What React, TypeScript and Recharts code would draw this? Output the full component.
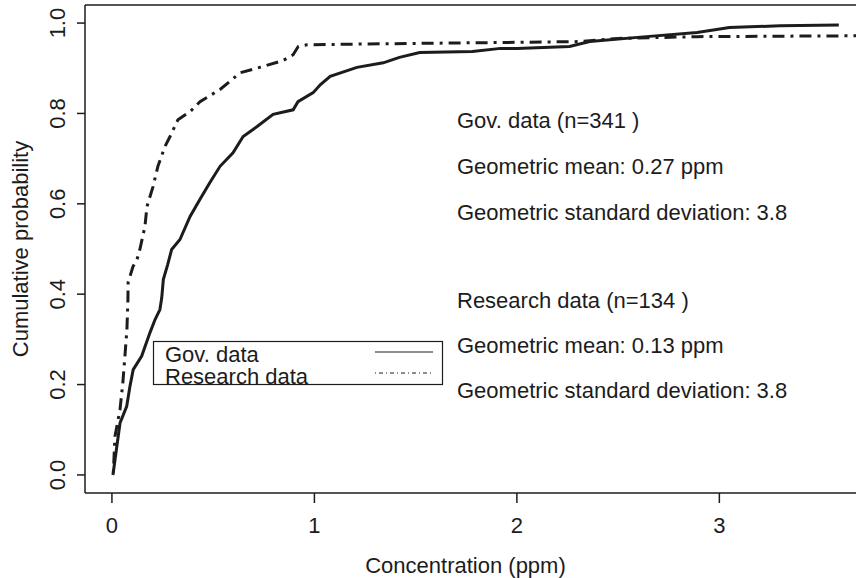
import { LineChart, Line, XAxis, YAxis, ReferenceLine, Label, Legend } from 'recharts';

// Empirical CDFs of measured concentration (ppm)
const govConc = [
  0.005, 0.04, 0.073, 0.089, 0.105, 0.147, 0.188, 0.213, 0.237, 0.246, 0.254, 0.275,
  0.295, 0.336, 0.386, 0.435, 0.484, 0.534, 0.598, 0.648, 0.717, 0.796, 0.895, 0.919,
  0.994, 1.03, 1.078, 1.21, 1.34, 1.42, 1.52, 1.78, 1.92, 2.0, 2.26, 2.36, 2.64, 2.89,
  3.05, 3.3, 3.59,
];
const govProb = [
  0.0, 0.115, 0.152, 0.196, 0.233, 0.263, 0.315, 0.344, 0.366, 0.392, 0.433, 0.465,
  0.499, 0.521, 0.572, 0.61, 0.647, 0.683, 0.713, 0.749, 0.771, 0.798, 0.808, 0.826,
  0.846, 0.864, 0.882, 0.902, 0.912, 0.924, 0.935, 0.937, 0.944, 0.944, 0.948, 0.959,
  0.97, 0.979, 0.99, 0.994, 0.996,
];

const resConc = [
  0.007, 0.015, 0.04, 0.054, 0.064, 0.074, 0.079, 0.08, 0.104, 0.124, 0.138, 0.163,
  0.173, 0.203, 0.227, 0.262, 0.287, 0.326, 0.386, 0.435, 0.534, 0.633, 0.73, 0.845,
  0.895, 0.92, 0.964, 1.5, 1.92, 2.31, 2.5, 2.89, 3.74,
];
const resProb = [
  0.005, 0.085, 0.145, 0.205, 0.262, 0.322, 0.388, 0.426, 0.461, 0.477, 0.499, 0.55,
  0.594, 0.638, 0.683, 0.727, 0.749, 0.786, 0.804, 0.826, 0.853, 0.89, 0.902, 0.917,
  0.93, 0.948, 0.952, 0.955, 0.957, 0.959, 0.966, 0.97, 0.972,
];

const xTicks = [0, 1, 2, 3];
const yTicks = [0, 0.2, 0.4, 0.6, 0.8, 1.0];

const govNotes = ['Gov. data (n=341 )', 'Geometric mean: 0.27 ppm', 'Geometric standard deviation: 3.8'];
const resNotes = ['Research data (n=134 )', 'Geometric mean: 0.13 ppm', 'Geometric standard deviation: 3.8'];

const govData = govConc.map((x, i) => ({ x, y: govProb[i] }));
const resData = resConc.map((x, i) => ({ x, y: resProb[i] }));

const INK = '#1c1c1c';
const FONT = '"Liberation Sans", Arial, Helvetica, sans-serif';
const FS = 22;
const DOTDASH = '3 6 12 6';

const YTick = ({ x, y, payload }: any) => (
  <text
    transform={`translate(${x - 18},${y}) rotate(-90)`}
    textAnchor="middle"
    dominantBaseline="central"
    fontSize={FS}
    fontFamily={FONT}
    fill={INK}
  >
    {payload.value.toFixed(1)}
  </text>
);

const XTick = ({ x, y, payload }: any) => (
  <text x={x} y={y + 20} textAnchor="middle" dominantBaseline="central" fontSize={FS} fontFamily={FONT} fill={INK}>
    {payload.value}
  </text>
);

const LegendBox = () => (
  <svg width={300} height={50} style={{ overflow: 'visible', display: 'block' }}>
    <rect x={0.5} y={0.5} width={289} height={43} fill="#fff" stroke={INK} strokeWidth={1.2} />
    <text x={12} y={21} fontSize={FS} fontFamily={FONT} fill={INK}>Gov. data</text>
    <text x={12} y={43} fontSize={FS} fontFamily={FONT} fill={INK}>Research data</text>
    <line x1={222} x2={280} y1={11} y2={11} stroke={INK} strokeWidth={1.2} />
    <line x1={222} x2={280} y1={32} y2={32} stroke={INK} strokeWidth={1.2} strokeDasharray="1 3 4 3" />
  </svg>
);

export default function App() {
  return (
    <div style={{ position: 'fixed', left: 0, top: 0, width: 856, height: 578, overflow: 'hidden', background: '#fff' }}>
      <LineChart width={880} height={578} margin={{ top: 5, right: 10, bottom: 0, left: 0 }}>
        <XAxis
          dataKey="x"
          type="number"
          domain={[-0.133, 3.744]}
          ticks={xTicks}
          tick={<XTick />}
          tickSize={10}
          height={85}
          stroke={INK}
          strokeWidth={1.5}
          allowDataOverflow
        >
          <Label
            value="Concentration (ppm)"
            position="insideBottom"
            offset={5}
            dx={-12}
            style={{ fontSize: FS, fontFamily: FONT, fill: INK }}
          />
        </XAxis>
        <YAxis
          dataKey="y"
          type="number"
          domain={[-0.04, 1.04]}
          ticks={yTicks}
          tick={<YTick />}
          tickSize={8}
          width={85}
          stroke={INK}
          strokeWidth={1.5}
          allowDataOverflow
        >
          <Label
            value="Cumulative probability"
            angle={-90}
            position="insideLeft"
            offset={20}
            style={{ fontSize: FS, fontFamily: FONT, fill: INK, textAnchor: 'middle' }}
          />
        </YAxis>
        <ReferenceLine y={1.04} stroke={INK} strokeWidth={1.5} />
        <Legend
          layout="horizontal"
          verticalAlign="middle"
          align="center"
          content={<LegendBox />}
          wrapperStyle={{ left: 153, top: 341, width: 300, height: 50 }}
        />
        <Line
          data={govData}
          dataKey="y"
          stroke={INK}
          strokeWidth={3}
          dot={false}
          type="linear"
          isAnimationActive={false}
        />
        <Line
          data={resData}
          dataKey="y"
          stroke={INK}
          strokeWidth={3}
          strokeDasharray={DOTDASH}
          dot={false}
          type="linear"
          isAnimationActive={false}
        />
      </LineChart>
      <svg width={856} height={578} style={{ position: 'absolute', left: 0, top: 0, pointerEvents: 'none' }}>
        {govNotes.map((t, i) => (
          <text key={t} x={457} y={120 + i * 46} dominantBaseline="central" fontSize={FS} fontFamily={FONT} fill={INK}>
            {t}
          </text>
        ))}
        {resNotes.map((t, i) => (
          <text key={t + i} x={457} y={300 + i * 45} dominantBaseline="central" fontSize={FS} fontFamily={FONT} fill={INK}>
            {t}
          </text>
        ))}
      </svg>
    </div>
  );
}
